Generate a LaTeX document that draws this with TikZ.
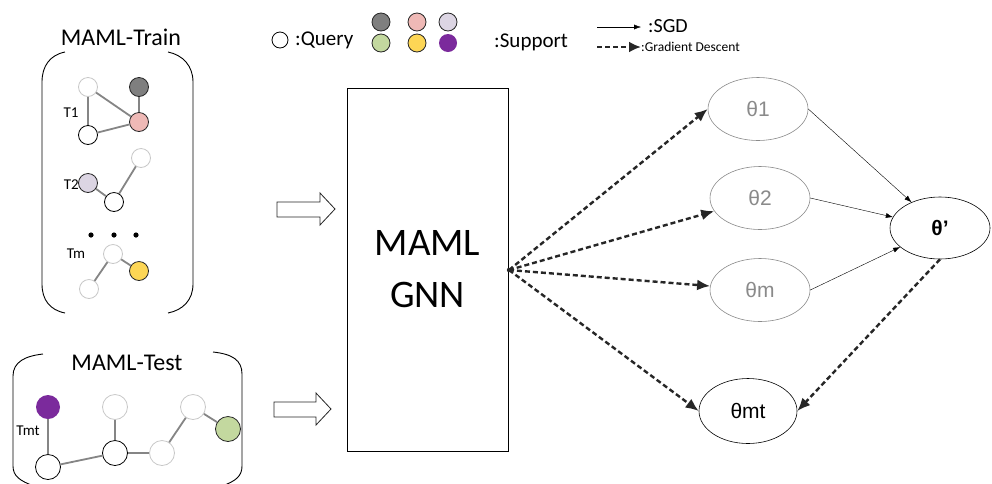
\documentclass[tikz,border=0pt]{standalone}
\usepackage{fontspec}
\setmainfont{Carlito}
\newfontfamily\thetafont{Liberation Sans}
\usetikzlibrary{shapes.geometric,arrows.meta}
\definecolor{edgegray}{HTML}{858585}
\definecolor{lightring}{HTML}{C8C8C8}
\definecolor{darkfill}{HTML}{7F7F7F}
\definecolor{pinkfill}{HTML}{EFB9B6}
\definecolor{lavfill}{HTML}{DCD5E3}
\definecolor{greenfill}{HTML}{C3D89F}
\definecolor{yellowfill}{HTML}{FDD655}
\definecolor{purplefill}{HTML}{7B2A9C}
\definecolor{thetagray}{HTML}{8A8A8A}
\tikzset{
  qnode/.style={circle,draw=black,fill=white,line width=0.8pt,minimum size=#1,inner sep=0pt},
  qnode/.default=19pt,
  lnode/.style={circle,draw=lightring,fill=white,line width=0.8pt,minimum size=#1,inner sep=0pt},
  lnode/.default=19pt,
  snode/.style={circle,draw=black!85,fill=#1,line width=0.8pt,minimum size=19pt,inner sep=0pt},
  gedge/.style={draw=edgegray,line width=1.8pt},
  tlabel/.style={font=\fontsize{15}{17}\selectfont,inner sep=0pt},
  bracketline/.style={line width=0.9pt},
  hollowarrow/.style={draw=black!85,line width=0.8pt,fill=white},
  param/.style={ellipse,draw=thetagray,line width=0.6pt,minimum width=100pt,minimum height=63pt,inner sep=0pt,
    text=thetagray,font=\thetafont\fontsize{21}{23}\selectfont},
  paramdark/.style={param,draw=black,text=black},
  gd/.style={draw=black!85,line width=2.4pt,dash pattern=on 5pt off 3pt,-{Latex[length=13pt,width=11pt]}},
  sgd/.style={draw=black,line width=0.4pt,-{Latex[length=7pt,width=5pt]}},
}
\begin{document}
\begin{tikzpicture}[x=1pt,y=-1pt]
\useasboundingbox (0,0) rectangle (992,483);
\fill[white] (0,0) rectangle (992,483);

% ---------- legend ----------
\node[qnode=16pt] (lq) at (280,40) {};
\node[anchor=west,inner sep=0pt,font=\fontsize{21}{24}\selectfont] (lqt) at (295,40) {:Query};
\node[snode=darkfill,minimum size=18pt] (ls1) at (381,22) {};
\node[snode=pinkfill,minimum size=18pt] (ls2) at (417,22) {};
\node[snode=lavfill,minimum size=18pt] (ls3) at (448,22) {};
\node[snode=greenfill,minimum size=18pt] (ls4) at (381,43) {};
\node[snode=yellowfill,minimum size=18pt] (ls5) at (417,43) {};
\node[circle,fill=purplefill,minimum size=18pt,inner sep=0pt] (ls6) at (448,43) {};
\node[anchor=west,inner sep=0pt,font=\fontsize{21}{24}\selectfont] (lst) at (494,42) {:Support};
\coordinate (sgdA) at (597,27);
\coordinate (sgdB) at (641,27);
\node[anchor=west,inner sep=0pt,font=\fontsize{20}{22}\selectfont] (sgdt) at (648,26) {:SGD};
\draw[sgd] (sgdA) -- (sgdB);
\coordinate (gdA) at (597,47);
\node[anchor=west,inner sep=0pt,font=\fontsize{13.5}{15}\selectfont] (gdt) at (641,47) {:Gradient Descent};
\draw[draw=black!85,line width=2.4pt,dash pattern=on 5pt off 3pt,-{Latex[length=12pt,width=11pt]}] (gdA) -- (gdt.west);

% ---------- MAML-Train ----------
\node[font=\fontsize{24}{28}\selectfont,inner sep=0pt] (traintitle) at (121,37) {MAML-Train};
\draw[bracketline] (65,52) .. controls (50,55) and (42,66) .. (42,82) -- (42,284) .. controls (42,300) and (50,310) .. (65,313);
\draw[bracketline] (168,52) .. controls (183,55) and (193,66) .. (193,82) -- (193,284) .. controls (193,300) and (183,310) .. (168,313);

% task T1
\node[lnode] (a1) at (88,87) {};
\node[snode=darkfill] (a2) at (139,87) {};
\node[snode=pinkfill] (a3) at (139,122) {};
\node[qnode] (a4) at (88,135) {};
\node[tlabel] (t1lab) at (71,113) {T1};
\draw[gedge] (a1) -- (a4);
\draw[gedge] (a1) -- (a3);
\draw[gedge] (a4) -- (a3);
\draw[gedge] (a2) -- (a3);

% task T2
\node[lnode] (b1) at (141,158) {};
\node[snode=lavfill] (b2) at (88,183) {};
\node[qnode] (b3) at (114,202) {};
\node[tlabel,anchor=east] (t2lab) at (79,185) {T2};
\draw[gedge] (b2) -- (b3);
\draw[gedge] (b3) -- (b1);

% ellipsis
\fill (91,235) circle (2.6pt);
\fill (114,235) circle (2.6pt);
\fill (136,235) circle (2.6pt);

% task Tm
\node[lnode] (c1) at (113,254) {};
\node[snode=yellowfill] (c2) at (139,271) {};
\node[lnode] (c3) at (89,289) {};
\node[tlabel] (tmlab) at (76,254) {Tm};
\draw[gedge] (c1) -- (c2);
\draw[gedge] (c1) -- (c3);

% ---------- MAML-Test ----------
\node[font=\fontsize{24}{28}\selectfont,inner sep=0pt] (testtitle) at (127,363) {MAML-Test};
\draw[bracketline] (43,354) .. controls (25,356) and (13,362) .. (13,376) -- (13,466) .. controls (13,476) and (20,481) .. (34,486);
\draw[bracketline] (213,352) .. controls (232,354) and (242,360) .. (242,374) -- (242,466) .. controls (242,476) and (236,481) .. (222,486);

\node[circle,fill=purplefill,minimum size=24pt,inner sep=0pt] (d1) at (48,407) {};
\node[qnode=25pt] (d2) at (48,467) {};
\node[lnode=25pt] (d3) at (115,407) {};
\node[qnode=25pt] (d4) at (115,453) {};
\node[lnode=25pt] (d5) at (162,453) {};
\node[lnode=25pt] (d6) at (193,407) {};
\node[snode=greenfill,minimum size=25pt] (d7) at (228,429) {};
\node[tlabel] (tmtlab) at (28,431) {Tmt};
\draw[gedge] (d1) -- (d2);
\draw[gedge] (d2) -- (d4);
\draw[gedge] (d3) -- (d4);
\draw[gedge] (d4) -- (d5);
\draw[gedge] (d5) -- (d6);
\draw[gedge] (d6) -- (d7);

% ---------- input arrows ----------
\draw[hollowarrow] (277,202) -- (320,202) -- (320,193) -- (335,209) -- (320,225) -- (320,217) -- (277,217) -- cycle;
\draw[hollowarrow] (274,402) -- (316,402) -- (316,393) -- (331,409) -- (316,425) -- (316,417) -- (274,417) -- cycle;

% ---------- model ----------
\node[draw=black,line width=0.8pt,minimum width=161pt,minimum height=363pt,inner sep=0pt,align=center,
  font=\fontsize{39}{52}\selectfont] (gnn) at (427.5,269.5) {MAML\\GNN};
\coordinate (src) at (509,270);
\fill[black!85] (src) circle (2.2pt);

% ---------- parameters ----------
\node[param] (p1) at (758,109) {θ1};
\node[param] (p2) at (760,198) {θ2};
\node[param] (pm) at (760,290) {θm};
\node[paramdark,minimum width=100pt,minimum height=62pt] (pp) at (940,228) {\textbf{θ’}};
\node[paramdark,minimum width=98pt,minimum height=65pt] (pmt) at (748,411) {θmt};

\draw[gd] (src) -- (p1.west);
\draw[gd] (src) -- (p2);
\draw[gd] (src) -- (pm);
\draw[gd] (src) -- (pmt.west);
\draw[gd] (pp.south) -- (pmt.east);

\draw[sgd] (p1.east) -- (pp);
\draw[sgd] (p2.east) -- (pp);
\draw[sgd] (pm.east) -- (pp);
\end{tikzpicture}
\end{document}
